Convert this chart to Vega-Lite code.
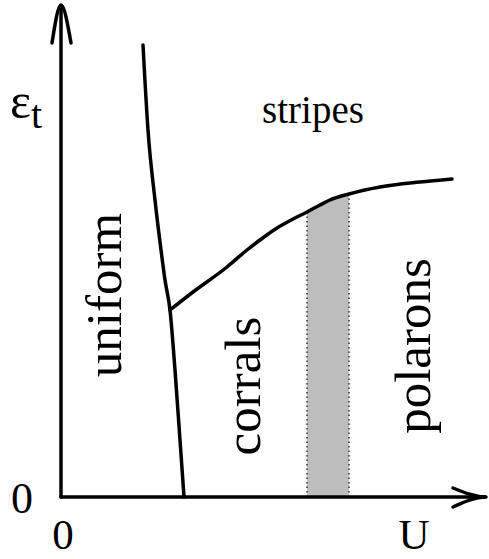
{
  "$schema": "https://vega.github.io/schema/vega-lite/v6.json",
  "width": 489,
  "height": 559,
  "autosize": "none",
  "padding": 0,
  "background": "white",
  "config": {"view": {"stroke": null}, "text": {"font": "Liberation Serif"}},
  "datasets": {
    "curves": [
      {"curve": "yaxis", "i": 0, "U": 0, "E": 0},
      {"curve": "yaxis", "i": 1, "U": 0, "E": 491},
      {"curve": "xaxis", "i": 0, "U": 0, "E": 0},
      {"curve": "xaxis", "i": 1, "U": 424, "E": 0},
      {"curve": "yarrow", "i": 0, "U": -9, "E": 454},
      {"curve": "yarrow", "i": 1, "U": 0, "E": 492},
      {"curve": "yarrow", "i": 2, "U": 10, "E": 454},
      {"curve": "xarrow", "i": 0, "U": 392, "E": 9},
      {"curve": "xarrow", "i": 1, "U": 425, "E": 0},
      {"curve": "xarrow", "i": 2, "U": 392, "E": -10},
      {"curve": "left", "i": 0, "U": 82, "E": 452},
      {"curve": "left", "i": 1, "U": 87, "E": 367},
      {"curve": "left", "i": 2, "U": 94, "E": 297},
      {"curve": "left", "i": 3, "U": 100, "E": 247},
      {"curve": "left", "i": 4, "U": 104, "E": 217},
      {"curve": "left", "i": 5, "U": 109, "E": 187},
      {"curve": "left", "i": 6, "U": 114, "E": 127},
      {"curve": "left", "i": 7, "U": 119, "E": 57},
      {"curve": "left", "i": 8, "U": 123, "E": 0},
      {"curve": "upper", "i": 0, "U": 109, "E": 187},
      {"curve": "upper", "i": 1, "U": 132, "E": 205},
      {"curve": "upper", "i": 2, "U": 166, "E": 230},
      {"curve": "upper", "i": 3, "U": 186, "E": 247},
      {"curve": "upper", "i": 4, "U": 199, "E": 257},
      {"curve": "upper", "i": 5, "U": 216, "E": 269},
      {"curve": "upper", "i": 6, "U": 232, "E": 278},
      {"curve": "upper", "i": 7, "U": 246, "E": 285},
      {"curve": "upper", "i": 8, "U": 259, "E": 292},
      {"curve": "upper", "i": 9, "U": 269, "E": 297},
      {"curve": "upper", "i": 10, "U": 288, "E": 303},
      {"curve": "upper", "i": 11, "U": 319, "E": 310},
      {"curve": "upper", "i": 12, "U": 359, "E": 315},
      {"curve": "upper", "i": 13, "U": 391, "E": 318}
    ],
    "band": [
      {"U": 246, "E": 285},
      {"U": 259, "E": 292},
      {"U": 269, "E": 297},
      {"U": 288, "E": 303}
    ],
    "edges": [
      {"U": 246, "E": 285},
      {"U": 288, "E": 303}
    ]
  },
  "layer": [
    {
      "data": {"name": "band"},
      "mark": {"type": "area", "color": "#bdbdbd", "opacity": 1, "interpolate": "monotone"},
      "encoding": {
        "x": {"field": "U", "type": "quantitative", "scale": {"domain": [-61, 428], "nice": false, "zero": false}, "axis": null},
        "y": {"field": "E", "type": "quantitative", "scale": {"domain": [-62, 497], "nice": false, "zero": false}, "axis": null},
        "y2": {"datum": 0}
      }
    },
    {
      "data": {"name": "edges"},
      "mark": {"type": "rule", "color": "#333333", "strokeWidth": 1.5, "strokeDash": [1.5, 3]},
      "encoding": {
        "x": {"field": "U", "type": "quantitative"},
        "y": {"field": "E", "type": "quantitative"},
        "y2": {"datum": 0}
      }
    },
    {
      "data": {"name": "curves"},
      "mark": {"type": "line", "color": "black", "strokeWidth": 3.5, "interpolate": "monotone", "strokeCap": "round", "strokeJoin": "round"},
      "encoding": {
        "x": {"field": "U", "type": "quantitative"},
        "y": {"field": "E", "type": "quantitative"},
        "detail": {"field": "curve"},
        "order": {"field": "i", "type": "quantitative"}
      }
    },
    {
      "data": {"values": [{"label": "stripes", "U": 252, "E": 374}]},
      "mark": {"type": "text", "fontSize": 39, "align": "center", "baseline": "alphabetic", "color": "black"},
      "encoding": {
        "x": {"field": "U", "type": "quantitative"},
        "y": {"field": "E", "type": "quantitative"},
        "text": {"field": "label"}
      }
    },
    {
      "data": {"values": [
        {"label": "uniform", "U": 60, "E": 202},
        {"label": "corrals", "U": 199, "E": 111},
        {"label": "polarons", "U": 369, "E": 151}
      ]},
      "mark": {"type": "text", "fontSize": 51, "angle": 270, "align": "center", "baseline": "alphabetic", "color": "black"},
      "encoding": {
        "x": {"field": "U", "type": "quantitative"},
        "y": {"field": "E", "type": "quantitative"},
        "text": {"field": "label"}
      }
    },
    {
      "data": {"values": [
        {"label": "0", "U": -39, "E": -16}
      ]},
      "mark": {"type": "text", "fontSize": 44, "align": "center", "baseline": "alphabetic", "color": "black"},
      "encoding": {
        "x": {"field": "U", "type": "quantitative"},
        "y": {"field": "E", "type": "quantitative"},
        "text": {"field": "label"}
      }
    },
    {
      "data": {"values": [
        {"label": "0", "U": 2, "E": -52},
        {"label": "U", "U": 353, "E": -52}
      ]},
      "mark": {"type": "text", "fontSize": 43, "align": "center", "baseline": "alphabetic", "color": "black"},
      "encoding": {
        "x": {"field": "U", "type": "quantitative"},
        "y": {"field": "E", "type": "quantitative"},
        "text": {"field": "label"}
      }
    },
    {
      "data": {"values": [{"label": "ε", "U": -51, "E": 379}]},
      "mark": {"type": "text", "fontSize": 50, "align": "left", "baseline": "alphabetic", "color": "black"},
      "encoding": {
        "x": {"field": "U", "type": "quantitative"},
        "y": {"field": "E", "type": "quantitative"},
        "text": {"field": "label"}
      }
    },
    {
      "data": {"values": [{"label": "t", "U": -30, "E": 369}]},
      "mark": {"type": "text", "fontSize": 40, "align": "left", "baseline": "alphabetic", "color": "black"},
      "encoding": {
        "x": {"field": "U", "type": "quantitative"},
        "y": {"field": "E", "type": "quantitative"},
        "text": {"field": "label"}
      }
    }
  ]
}
